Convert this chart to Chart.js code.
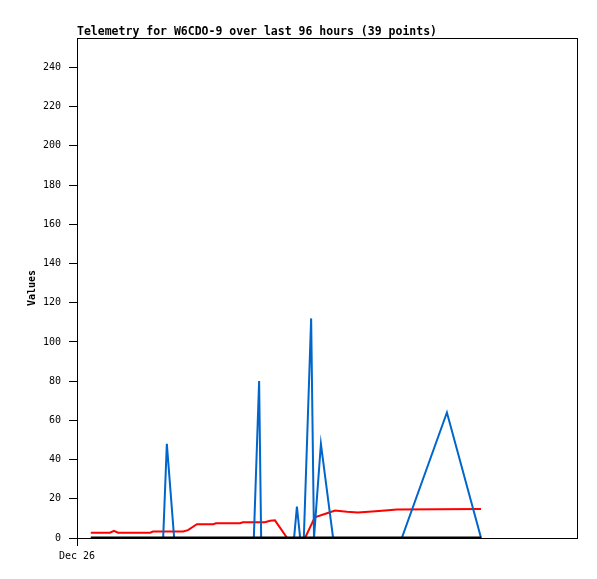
<!DOCTYPE html>
<html>
<head>
<meta charset="utf-8">
<script src="https://cdn.jsdelivr.net/npm/chart.js@4/dist/chart.umd.min.js"></script>
<style>
  html, body { margin: 0; padding: 0; background: #fff; }
  #wrap { width: 597px; height: 579px; }
</style>
</head>
<body>
<div id="wrap"><canvas id="c" width="597" height="579"></canvas></div>
<script>
// ---- data (x = hours since Dec 26 00:00) ----
const chartTitle = 'Telemetry for W6CDO-9 over last 96 hours (39 points)';
const xTickLabel = 'Dec 26';
const yTicks = [0, 20, 40, 60, 80, 100, 120, 140, 160, 180, 200, 220, 240];

const blackHours  = [3.4, 99.4];
const blackValues = [0, 0];

const blueHours  = [3.4, 21.2, 22.1, 23.9, 43.5, 44.8, 45.3, 53.4, 54.1, 54.9, 55.8, 57.6, 58.3, 60.0, 63.0, 79.9, 91.0, 99.4];
const blueValues = [0,   0,    48,   0,    0,    80,   0,    0,    16,   0,    0,    112,  0,    48,   0,    0,    64,   0];

const redHours  = [3.4, 8.1, 9.1, 10.1, 18.0, 18.7, 26.1, 27.3, 29.5, 33.5, 34.2, 40.1, 40.8, 46.2, 47.5, 48.7, 51.7, 56.1, 58.5, 61.5, 63.5, 66.4, 69.1, 72.6, 75.8, 78.7, 99.4];
const redValues = [2.7, 2.7, 3.7, 2.7,  2.7,  3.3,  3.3,  4.0,  7.0,  7.0,  7.5,  7.5,  8.0,  8.0,  8.8,  9.0,  0,    0,    10.6, 12.6, 14.0, 13.4, 13.0, 13.5, 14.0, 14.5, 14.8];

const toPts = (xs, ys) => xs.map((x, i) => ({ x: x, y: ys[i] }));

const frameAndTitle = {
  id: 'frameAndTitle',
  afterDraw(chart) {
    const { ctx, chartArea: a } = chart;
    ctx.save();
    ctx.strokeStyle = '#000';
    ctx.lineWidth = 1;
    ctx.strokeRect(a.left + 0.5, a.top + 0.5, a.right - a.left, a.bottom - a.top);
    ctx.fillStyle = '#000';
    ctx.font = 'bold 11.5px "DejaVu Sans Mono"';
    ctx.textBaseline = 'alphabetic';
    ctx.textAlign = 'left';
    ctx.fillText(chartTitle, a.left, 34.5);
    ctx.restore();
  }
};

new Chart(document.getElementById('c'), {
  type: 'line',
  data: {
    datasets: [
      { data: toPts(blackHours, blackValues), borderColor: '#000000', borderWidth: 3, pointRadius: 0, tension: 0, fill: false },
      { data: toPts(blueHours, blueValues), borderColor: '#0066cc', borderWidth: 2, pointRadius: 0, tension: 0, fill: false },
      { data: toPts(redHours, redValues), borderColor: '#ff0000', borderWidth: 2, pointRadius: 0, tension: 0, fill: false }
    ]
  },
  options: {
    responsive: false,
    animation: false,
    layout: { padding: { top: 38, right: 20, left: 0, bottom: 0 } },
    plugins: { legend: { display: false }, tooltip: { enabled: false }, title: { display: false } },
    scales: {
      x: {
        type: 'linear',
        min: 0,
        max: 123,
        afterBuildTicks: (s) => { s.ticks = [{ value: 0 }]; },
        afterFit: (s) => { s.height = 41; },
        ticks: {
          autoSkip: false, maxRotation: 0, padding: 4, color: '#000',
          font: { family: '"DejaVu Sans Mono"', size: 10 },
          callback: () => xTickLabel
        },
        grid: { display: true, drawOnChartArea: false, drawTicks: true, tickLength: 8, color: '#000' },
        border: { display: true, color: '#000', width: 1 }
      },
      y: {
        type: 'linear',
        min: 0,
        max: 255,
        afterBuildTicks: (s) => { s.ticks = yTicks.map(v => ({ value: v })); },
        afterFit: (s) => { s.width = 77; },
        ticks: {
          padding: 8, color: '#000',
          font: { family: '"DejaVu Sans Mono"', size: 10 }
        },
        grid: { display: true, drawOnChartArea: false, drawTicks: true, tickLength: 8, color: '#000' },
        border: { display: true, color: '#000', width: 1 },
        title: {
          display: true, text: 'Values', color: '#000',
          font: { family: '"DejaVu Sans Mono"', size: 10, weight: 'bold' },
          padding: { top: 26, bottom: 0 }
        }
      }
    }
  },
  plugins: [frameAndTitle]
});
</script>
</body>
</html>
